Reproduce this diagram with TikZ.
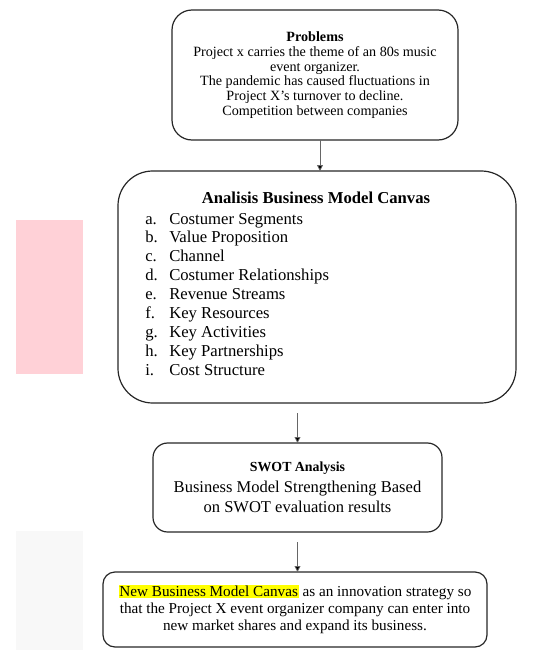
\documentclass[tikz,border=0pt]{standalone}
\usepackage{fontspec}
\setmainfont{Liberation Serif}
\usepackage{xcolor}
\usetikzlibrary{arrows.meta}

\definecolor{pinkmark}{HTML}{FFD1D7}
\definecolor{graymark}{HTML}{F8F8F8}
\definecolor{marker}{HTML}{FFFF00}

\begin{document}
\begin{tikzpicture}[x=0.75pt,y=-0.75pt,
    box/.style={draw=black!85, line width=0.9pt, inner sep=0pt, outer sep=0pt, align=center},
    link/.style={draw=black!60, line width=0.6pt, -{Triangle[length=4.5pt,width=4.5pt,fill=black]}}]

  \def\W{553}
  \def\H{650}

  % page
  \useasboundingbox (0,0) rectangle (\W,\H);

  % marks at the left side
  \fill[pinkmark] (16,220) rectangle (83,374);
  \fill[graymark] (16,531) rectangle (83,\H);

  % boxes
  \node[box, rounded corners=15pt, minimum width=214.5pt, minimum height=97.5pt,
    font=\fontsize{10.6}{11}\selectfont] (prob) at (315,75)
    {\textbf{Problems}\\
     Project x carries the theme of an 80s music\\
     event organizer.\\
     The pandemic has caused fluctuations in\\
     Project X's turnover to decline.\\
     Competition between companies};

  \node[box, rounded corners=26pt, minimum width=298.5pt, minimum height=174pt] (bmc) at (317,287) {};

  \node[box, rounded corners=11pt, minimum width=216.75pt, minimum height=66.75pt,
    font=\fontsize{12.4}{15.5}\selectfont] (swot) at (297.5,487.5)
    {{\fontsize{10.4}{15.5}\selectfont\textbf{SWOT Analysis}}\\
     Business Model Strengthening Based\\
     on SWOT evaluation results};

  \node[box, rounded corners=9pt, minimum width=288pt, minimum height=56.25pt,
    font=\fontsize{11.4}{12.75}\selectfont] (newbmc) at (295,609.5)
    {{\setlength{\fboxsep}{0.6pt}\colorbox{marker}{New Business Model Canvas}} as an innovation strategy so\\
     that the Project X event organizer company can enter into\\
     new market shares and expand its business.};

  % list in the canvas box
  \node[anchor=base, font=\fontsize{12.5}{14}\selectfont\bfseries] (bmctitle) at (316,203)
    {Analisis Business Model Canvas};
  \foreach \lab/\txt [count=\i] in {a/Costumer Segments, b/Value Proposition, c/Channel,
      d/Costumer Relationships, e/Revenue Streams, f/Key Resources, g/Key Activities,
      h/Key Partnerships, i/Cost Structure}
  {
    \node[anchor=base west, inner sep=0pt, font=\fontsize{12.5}{14}\selectfont] (lab\i) at (145,{224+18.9*(\i-1)}) {\lab.};
    \node[anchor=base west, inner sep=0pt, font=\fontsize{12.5}{14}\selectfont] (item\i) at (169,{224+18.9*(\i-1)}) {\txt};
  }

  % arrows
  \draw[link] ([xshift=3.75pt]prob.south) coordinate (t1) -- (t1 |- bmc.north);
  \draw[link, shorten <=7.5pt] (bmc.south -| swot.north) -- (swot.north);
  \draw[link, shorten <=7.5pt] (swot.south) -- (swot.south |- newbmc.north);

\end{tikzpicture}
\end{document}
